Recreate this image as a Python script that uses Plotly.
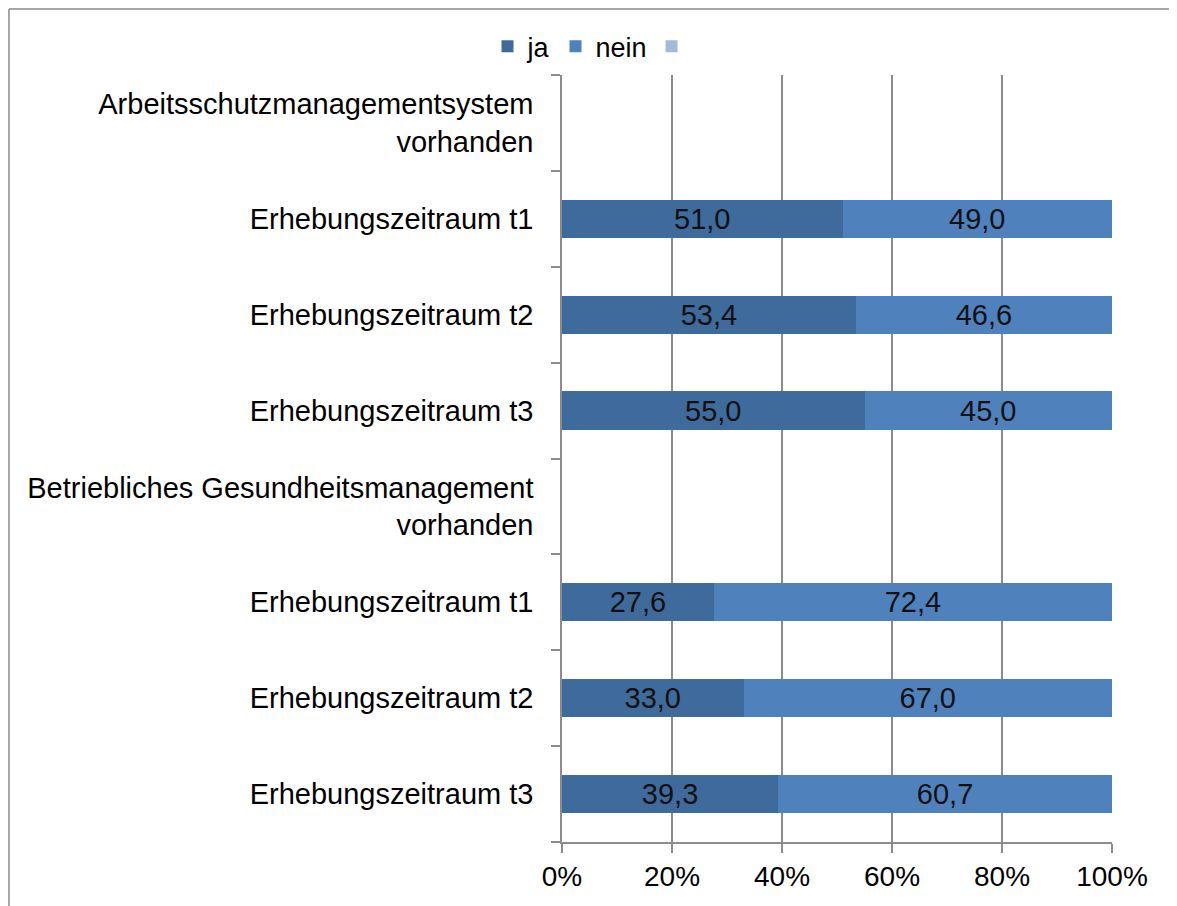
import plotly.graph_objects as go

# --- data ---
category_keys = ["A", "A_t1", "A_t2", "A_t3", "B", "B_t1", "B_t2", "B_t3"]
category_labels = [
    "Arbeitsschutzmanagementsystem<br>vorhanden",
    "Erhebungszeitraum t1",
    "Erhebungszeitraum t2",
    "Erhebungszeitraum t3",
    "Betriebliches Gesundheitsmanagement<br>vorhanden",
    "Erhebungszeitraum t1",
    "Erhebungszeitraum t2",
    "Erhebungszeitraum t3",
]
ja_values = [None, 51.0, 53.4, 55.0, None, 27.6, 33.0, 39.3]
nein_values = [None, 49.0, 46.6, 45.0, None, 72.4, 67.0, 60.7]
third_values = [None] * 8
series_names = ["ja", "nein", " "]
x_ticks = [0, 20, 40, 60, 80, 100]
x_tick_labels = ["0%", "20%", "40%", "60%", "80%", "100%"]

# --- style ---
FONT = "Liberation Sans, Arial, sans-serif"
FS = 29
colors = ["#3F6A9C", "#4F81BD", "#A7B9DA"]
GRID = "#8C8C8C"
# page body has an 8px margin; figure sized to fit the 1177x906 window
W, H = 1169, 898
ML, MR, MT, MB = 554, 65, 67, 64

fig = go.Figure()
for name, vals, col in zip(series_names, [ja_values, nein_values, third_values], colors):
    fig.add_trace(go.Bar(
        y=category_keys, x=vals, name=name, orientation="h",
        marker=dict(color=col, line=dict(width=0)),
        texttemplate="%{x:.1f}",
        textposition="inside", insidetextanchor="middle",
        textfont=dict(color="#111111", size=FS, family=FONT),
        constraintext="none",
    ))

pw = W - ML - MR
ph = H - MT - MB
# outer chart border: only left and top edges fall inside the picture
fig.add_shape(type="line", xref="paper", yref="paper",
              x0=(1 - ML) / pw, x1=(1 - ML) / pw,
              y0=(H - MB - (H + 20)) / ph, y1=(H - MB - 1) / ph,
              line=dict(color="#8A8A8A", width=1.5), layer="below")
fig.add_shape(type="line", xref="paper", yref="paper",
              x0=(1 - ML) / pw, x1=(W + 20 - ML) / pw,
              y0=(H - MB - 1) / ph, y1=(H - MB - 1) / ph,
              line=dict(color="#8A8A8A", width=1.5), layer="below")

fig.update_layout(
    width=W, height=H,
    margin=dict(l=ML, r=MR, t=MT, b=MB, autoexpand=False),
    barmode="stack", bargap=0.6,
    separators=",.",
    plot_bgcolor="white", paper_bgcolor="white",
    font=dict(family=FONT, size=FS, color="black"),
    legend=dict(orientation="h", xref="container", yref="container",
                x=0.503, xanchor="center", y=0.957, yanchor="middle",
                font=dict(size=27, family=FONT), itemclick=False,
                traceorder="normal"),
    showlegend=True,
)
fig.update_xaxes(
    range=[0, 100], tickvals=x_ticks, ticktext=x_tick_labels,
    showgrid=True, gridcolor=GRID, gridwidth=1.5,
    showline=True, linecolor=GRID, linewidth=1.5,
    ticks="outside", ticklen=9, tickcolor=GRID, tickwidth=1.5,
    zeroline=False, tickfont=dict(size=28, family=FONT),
)
fig.update_yaxes(
    type="category", categoryorder="array", categoryarray=category_keys,
    autorange="reversed",
    tickmode="array", tickvals=category_keys, ticktext=category_labels,
    tickson="boundaries", ticks="outside", ticklen=9, tickcolor=GRID, tickwidth=1.5,
    showline=True, linecolor=GRID, linewidth=1.5, showgrid=False,
    ticklabelstandoff=21, tickfont=dict(size=FS, family=FONT),
)
fig.write_html("out.html")
